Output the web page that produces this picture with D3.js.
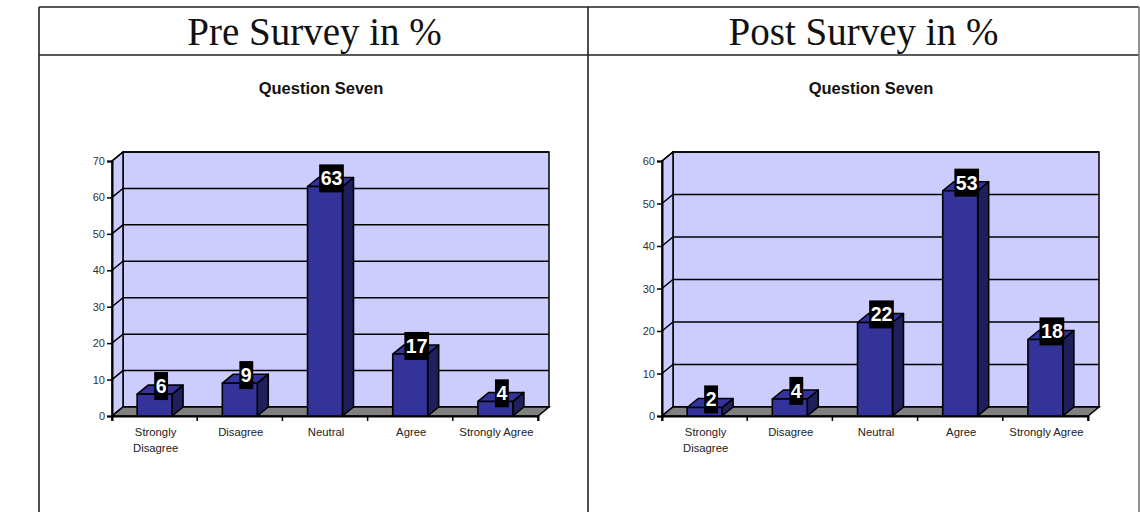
<!DOCTYPE html>
<html>
<head>
<meta charset="utf-8">
<script src="https://cdn.jsdelivr.net/npm/d3@7"></script>
<style>
  html, body { margin: 0; padding: 0; background: #fff; }
  svg { display: block; }
</style>
</head>
<body>
<svg id="chart" width="1140" height="512"></svg>
<script>
const categories = ["Strongly Disagree", "Disagree", "Neutral", "Agree", "Strongly Agree"];
const categoryLines = [["Strongly", "Disagree"], ["Disagree"], ["Neutral"], ["Agree"], ["Strongly Agree"]];
const preValues = [6, 9, 63, 17, 4];
const postValues = [2, 4, 22, 53, 18];
const preTicks = [0, 10, 20, 30, 40, 50, 60, 70];
const postTicks = [0, 10, 20, 30, 40, 50, 60];
const headers = ["Pre Survey in %", "Post Survey in %"];
const chartTitle = "Question Seven";

const svg = d3.select("#chart");

// Table frame
const T = { left: 39, mid: 588, right: 1139, top: 7, sep: 55, bottom: 512 };
const frame = svg.append("g").attr("stroke", "#222").attr("stroke-width", 1.6).attr("fill", "none");
frame.append("line").attr("x1", T.left).attr("x2", T.right).attr("y1", T.top).attr("y2", T.top);
frame.append("line").attr("x1", T.left).attr("x2", T.right).attr("y1", T.sep).attr("y2", T.sep);
frame.append("line").attr("x1", T.left).attr("x2", T.left).attr("y1", T.top).attr("y2", T.bottom);
frame.append("line").attr("x1", T.mid).attr("x2", T.mid).attr("y1", T.top).attr("y2", T.bottom);
frame.append("line").attr("x1", T.right).attr("x2", T.right).attr("y1", T.top).attr("y2", T.bottom).attr("stroke", "#777");

// Headers
[[headers[0], (T.left + T.mid) / 2 + 1], [headers[1], (T.mid + T.right) / 2]].forEach(([t, cx]) => {
  svg.append("text").attr("x", cx).attr("y", 45)
    .attr("text-anchor", "middle")
    .attr("font-family", "'Liberation Serif', 'Times New Roman', serif")
    .attr("font-size", 39).attr("fill", "#111").text(t);
});

const DX = 11, DY = 9;

function drawChart(offsetX, values, ticks, maxV) {
  const g = svg.append("g").attr("transform", `translate(${offsetX},0)`);
  const x0 = 112, x1 = 538, yBase = 416, yTop = 161;
  const x = d3.scaleBand().domain(categories).range([x0, x1]).paddingInner(0).paddingOuter(0);
  const y = d3.scaleLinear().domain([0, maxV]).range([yBase, yTop]);
  const bw = x.bandwidth() * 0.41;

  // Title
  g.append("text").attr("x", 321).attr("y", 94)
    .attr("text-anchor", "middle")
    .attr("font-family", "'Liberation Sans', Arial, sans-serif")
    .attr("font-weight", "bold").attr("font-size", 16.5)
    .attr("fill", "#111").text(chartTitle);

  // Back wall
  g.append("rect").attr("x", x0 + DX).attr("y", yTop - DY)
    .attr("width", x1 - x0).attr("height", yBase - yTop)
    .attr("fill", "#ccccff").attr("stroke", "#000").attr("stroke-width", 1.5);
  // Left wall
  g.append("polygon")
    .attr("points", [[x0, yTop], [x0 + DX, yTop - DY], [x0 + DX, yBase - DY], [x0, yBase]].map(p => p.join(",")).join(" "))
    .attr("fill", "#ccccff").attr("stroke", "#000").attr("stroke-width", 1.5);

  // Gridlines
  ticks.forEach(t => {
    const yy = y(t);
    g.append("path")
      .attr("d", `M${x0},${yy}L${x0 + DX},${yy - DY}L${x1 + DX},${yy - DY}`)
      .attr("fill", "none").attr("stroke", "#000").attr("stroke-width", 1.5);
  });

  // Floor
  g.append("polygon")
    .attr("points", [[x0, yBase], [x1, yBase], [x1 + DX, yBase - DY], [x0 + DX, yBase - DY]].map(p => p.join(",")).join(" "))
    .attr("fill", "#808080").attr("stroke", "#000").attr("stroke-width", 1.5);

  // Axes
  const yAxis = d3.axisLeft(y).tickValues(ticks).tickSize(5).tickPadding(2);
  const ya = g.append("g").attr("transform", `translate(${x0},0)`).call(yAxis);
  ya.select(".domain").attr("stroke", "#000").attr("stroke-width", 2);
  ya.selectAll(".tick line").attr("stroke", "#000").attr("stroke-width", 1.5);
  ya.selectAll(".tick text").attr("font-family", "'Liberation Sans', Arial, sans-serif")
    .attr("font-size", 11).attr("fill", "#333");

  const xAxis = d3.axisBottom(x).tickSize(5).tickFormat("");
  const xa = g.append("g").attr("transform", `translate(0,${yBase})`).call(xAxis);
  xa.select(".domain").attr("stroke", "#000").attr("stroke-width", 2);
  // ticks at band edges instead of centers
  xa.selectAll(".tick").remove();
  const edges = categories.map(c => x(c)).concat([x1]);
  xa.selectAll(".edge").data(edges).join("line")
    .attr("x1", d => d).attr("x2", d => d).attr("y1", 0).attr("y2", 5)
    .attr("stroke", "#000").attr("stroke-width", 1.5);

  // Category labels
  categories.forEach((c, i) => {
    const t = g.append("text").attr("x", x(c) + x.bandwidth() / 2 + 1).attr("y", 436)
      .attr("text-anchor", "middle")
      .attr("font-family", "'Liberation Sans', Arial, sans-serif")
      .attr("font-size", 11.3).attr("fill", "#222");
    categoryLines[i].forEach((ln, k) => {
      t.append("tspan").attr("x", x(c) + x.bandwidth() / 2 + 1).attr("dy", k === 0 ? 0 : 16).text(ln);
    });
  });

  // Bars
  categories.forEach((c, i) => {
    const v = values[i];
    const bx = x(c) + (x.bandwidth() - bw) / 2;
    const by = y(v);
    const bar = g.append("g").attr("stroke", "#000").attr("stroke-width", 1.6).attr("stroke-linejoin", "round");
    bar.append("polygon")
      .attr("points", [[bx + bw, by], [bx + bw + DX, by - DY], [bx + bw + DX, yBase - DY], [bx + bw, yBase]].map(p => p.join(",")).join(" "))
      .attr("fill", "#1f1f5c");
    bar.append("polygon")
      .attr("points", [[bx, by], [bx + DX, by - DY], [bx + bw + DX, by - DY], [bx + bw, by]].map(p => p.join(",")).join(" "))
      .attr("fill", "#333399");
    bar.append("rect").attr("x", bx).attr("y", by).attr("width", bw).attr("height", yBase - by)
      .attr("fill", "#333399");
  });

  // Value labels
  categories.forEach((c, i) => {
    const v = values[i];
    const cx = x(c) + x.bandwidth() / 2 + DX / 2 + 1;
    const cy = y(v) - DY / 2 - 3.6;
    const lg = g.append("g");
    const rect = lg.append("rect").attr("fill", "#000");
    const txt = lg.append("text").attr("x", cx).attr("y", cy + 7)
      .attr("text-anchor", "middle")
      .attr("font-family", "'Liberation Sans', Arial, sans-serif")
      .attr("font-weight", "bold").attr("font-size", 19.5).attr("fill", "#fff").text(v);
    const w = txt.node().getComputedTextLength() + 3;
    rect.attr("x", cx - w / 2).attr("y", cy - 14).attr("width", w).attr("height", 28);
  });
}

drawChart(0, preValues, preTicks, 70);
drawChart(550, postValues, postTicks, 60);
</script>
</body>
</html>
